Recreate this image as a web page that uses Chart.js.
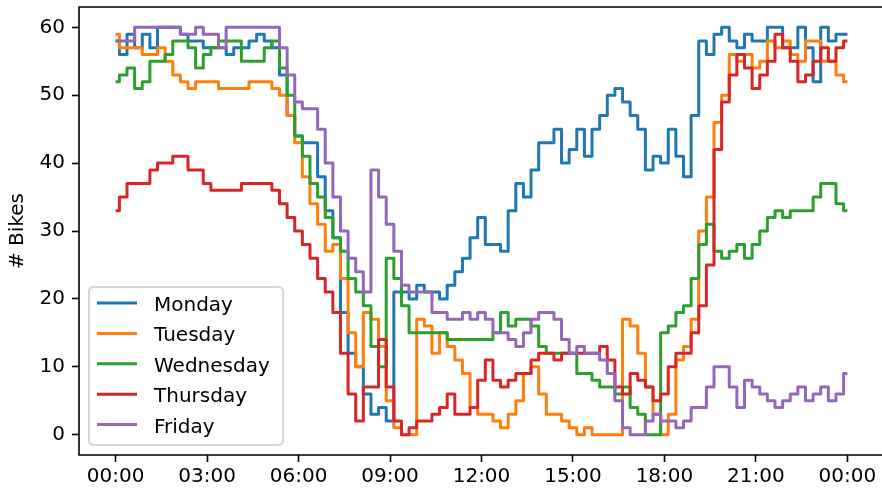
<!DOCTYPE html>
<html>
<head>
<meta charset="utf-8">
<script src="https://cdn.jsdelivr.net/npm/chart.js@4.4.1/dist/chart.umd.min.js"></script>
<style>
  html, body { margin: 0; padding: 0; background: #fff; overflow: hidden; }
  #wrap { width: 890px; height: 489px; }
</style>
</head>
<body>
<div id="wrap"><canvas id="bikes" width="890" height="489"></canvas></div>
<script>
// one reading every 15 minutes, 00:00 through 24:00 (97 values per day)
var stepHours = 0.25;

var dayNames  = ["Monday", "Tuesday", "Wednesday", "Thursday", "Friday"];
var dayColors = ["#1f77b4", "#ff7f0e", "#2ca02c", "#d62728", "#9467bd"];

var monday = [58,56,59,57,59,57,60,60,60,59, 58,58,57,57,57,56,57,57,58,59,
              58,57,53,47,44,43,43,38,33,29, 18,12,10,6,3,4,2,21,21,20,
              22,21,21,20,22,24,26,29,32,28, 28,27,33,37,35,39,43,43,45,40,
              42,45,41,45,47,50,51,49,47,45, 39,41,40,45,41,38,47,58,56,59,
              60,58,57,59,58,58,60,60,57,57, 60,57,52,60,58,59,59];
var tuesday = [59,57,57,57,56,56,57,55,53,52, 51,52,52,52,51,51,51,51,52,52,
               52,51,50,47,43,38,34,31,27,28, 23,15,10,18,17,13,5,1,0,0,
               17,16,12,15,13,11,9,4,3,3, 2,1,3,5,9,10,6,3,3,2,
               1,0,1,0,0,0,0,17,16,12, 7,3,0,3,11,13,17,30,35,46,
               50,56,55,56,54,55,58,57,58,56, 55,58,58,55,55,53,52];
var wednesday = [52,53,54,51,52,55,55,56,58,58, 57,54,56,57,58,58,58,55,55,55,
                 57,58,54,50,44,41,37,35,32,29, 27,23,21,19,13,10,26,23,19,15,
                 15,15,15,15,14,14,14,14,14,14, 15,18,16,17,17,16,13,12,12,12,
                 12,9,9,8,7,7,6,7,4,3, 0,0,15,16,18,19,23,28,31,27,
                 26,27,28,26,28,30,32,33,32,33, 33,33,35,37,37,34,33];
var thursday = [33,35,37,37,37,39,40,40,41,41, 39,39,37,36,36,36,36,37,37,37,
                37,36,34,32,30,28,26,23,21,18, 12,6,2,7,7,14,7,2,0,1,
                2,2,3,4,6,3,3,4,8,11, 8,7,8,9,9,11,12,12,11,12,
                12,12,12,12,13,11,7,6,9,8, 7,5,6,10,12,12,15,19,25,42,
                49,53,56,54,51,53,55,59,57,55, 52,53,55,57,55,57,58];
var friday = [58,58,58,60,60,60,60,60,60,59, 59,60,59,59,57,60,60,60,60,60,
              60,60,57,53,49,48,48,45,40,35, 30,26,24,21,39,35,31,27,22,21,
              21,21,18,18,17,17,18,17,18,17, 15,15,14,13,15,17,18,18,17,14,
              12,13,12,12,11,9,5,1,0,0, 2,3,2,2,1,2,4,4,7,10,
              10,7,4,8,7,6,5,4,5,6, 7,5,6,7,5,6,9];

var hourTicks = [0, 3, 6, 9, 12, 15, 18, 21, 24];
var bikeTicks = [0, 10, 20, 30, 40, 50, 60];

var allDays = [monday, tuesday, wednesday, thursday, friday];
var font = { family: "DejaVu Sans", size: 20 };

// spines (right one falls outside the window) + the boxed legend lower left
var framePlugin = {
  id: "frame",
  afterDatasetsDraw: function(chart) {
    var c = chart.ctx, a = chart.chartArea;
    c.save();
    c.strokeStyle = "#000";
    c.lineWidth = 1.6;
    c.beginPath();
    c.moveTo(chart.width, a.top);
    c.lineTo(a.left, a.top);
    c.lineTo(a.left, a.bottom);
    c.lineTo(chart.width, a.bottom);
    c.stroke();

    // legend box
    var bx = a.left + 10, bw = 194, bh = 158, by = a.bottom - 10 - bh, r = 5;
    c.beginPath();
    c.moveTo(bx + r, by);
    c.lineTo(bx + bw - r, by);
    c.quadraticCurveTo(bx + bw, by, bx + bw, by + r);
    c.lineTo(bx + bw, by + bh - r);
    c.quadraticCurveTo(bx + bw, by + bh, bx + bw - r, by + bh);
    c.lineTo(bx + r, by + bh);
    c.quadraticCurveTo(bx, by + bh, bx, by + bh - r);
    c.lineTo(bx, by + r);
    c.quadraticCurveTo(bx, by, bx + r, by);
    c.closePath();
    c.fillStyle = "rgba(255,255,255,0.8)";
    c.fill();
    c.strokeStyle = "rgba(204,204,204,0.8)";
    c.lineWidth = 2;
    c.stroke();

    c.font = "20px 'DejaVu Sans'";
    c.textBaseline = "alphabetic";
    c.textAlign = "left";
    for (var i = 0; i < dayNames.length; i++) {
      var ry = by + 16 + i * 30.4;
      c.strokeStyle = dayColors[i];
      c.lineWidth = 3;
      c.beginPath();
      c.moveTo(bx + 8, ry);
      c.lineTo(bx + 48, ry);
      c.stroke();
      c.fillStyle = "#000";
      c.fillText(dayNames[i], bx + 65, ry + 8);
    }
    c.restore();
  }
};

function hourLabel(v) {
  var h = v % 24;
  return (h < 10 ? "0" + h : "" + h) + ":00";
}

new Chart(document.getElementById("bikes"), {
  type: "line",
  data: {
    datasets: allDays.map(function(vals, k) {
      return {
        label: dayNames[k],
        data: vals.map(function(v, i) { return { x: i * stepHours, y: v }; }),
        borderColor: dayColors[k],
        backgroundColor: dayColors[k],
        borderWidth: 3,
        pointRadius: 0,
        stepped: "middle",
        fill: false,
        borderJoinStyle: "round",
        order: 4 - k
      };
    })
  },
  options: {
    responsive: false,
    animation: false,
    devicePixelRatio: 1,
    layout: { padding: { top: 7, right: 6, left: 0, bottom: 0 } },
    plugins: {
      legend: { display: false },
      tooltip: { enabled: false },
      title: { display: false }
    },
    scales: {
      x: {
        type: "linear",
        min: -1.2,
        max: 25.2,
        afterBuildTicks: function(s) { s.ticks = hourTicks.map(function(v) { return { value: v }; }); },
        afterFit: function(s) { s.height = 34; s.paddingLeft = 0; s.paddingRight = 0; },
        ticks: { callback: hourLabel, font: font, color: "#000", padding: 3, maxRotation: 0, autoSkip: false },
        grid: { drawOnChartArea: false, tickLength: 7, tickColor: "#000", tickWidth: 1.6 },
        border: { display: false }
      },
      y: {
        min: -3,
        max: 63,
        afterBuildTicks: function(s) { s.ticks = bikeTicks.map(function(v) { return { value: v }; }); },
        afterFit: function(s) { s.width = 79; s.paddingTop = 0; s.paddingBottom = 0; },
        ticks: { font: font, color: "#000", padding: 7, autoSkip: false },
        grid: { drawOnChartArea: false, tickLength: 7, tickColor: "#000", tickWidth: 1.6 },
        border: { display: false },
        title: { display: true, text: "# Bikes", font: font, color: "#000", padding: { top: 6, bottom: 0 } }
      }
    }
  },
  plugins: [framePlugin]
});
</script>
</body>
</html>
